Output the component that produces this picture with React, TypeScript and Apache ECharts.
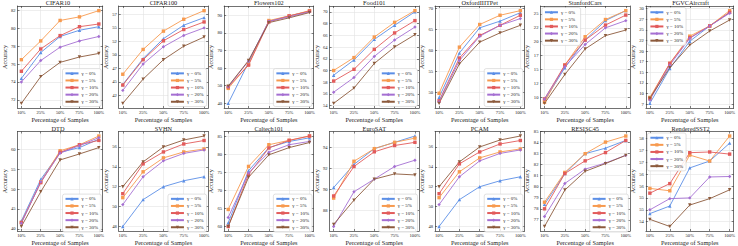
import React, { useEffect, useRef } from 'react';
import * as echarts from 'echarts';

const categories = ['10%', '25%', '50%', '75%', '100%'];
const gammaLabels = ['γ = 0%', 'γ = 5%', 'γ = 10%', 'γ = 20%', 'γ = 30%'];

// rows: γ = 0%, 5%, 10%, 20%, 30%
const cifar10 = [
  [74.4, 77.3, 79.1, 79.8, 80.2],
  [76.5, 78.6, 80.9, 81.3, 82.0],
  [75.2, 77.7, 79.2, 80.2, 80.5],
  [74.0, 76.4, 77.9, 78.6, 79.1],
  [71.6, 74.6, 76.2, 76.8, 77.2],
];
const cifar10Ticks = [72, 74, 76, 78, 80, 82];

const cifar100 = [
  [44.5, 49.3, 53.0, 55.5, 56.9],
  [46.4, 51.0, 54.4, 56.6, 58.2],
  [44.4, 49.1, 52.6, 54.7, 56.1],
  [43.4, 48.3, 51.5, 53.6, 55.0],
  [41.0, 45.5, 49.1, 51.6, 53.3],
];
const cifar100Ticks = [42.5, 45, 47.5, 50, 52.5, 55, 57.5];

const flowers102 = [
  [40.0, 63.2, 86.6, 89.6, 92.3],
  [48.5, 62.1, 87.0, 89.6, 92.6],
  [49.4, 61.7, 86.2, 89.6, 92.3],
  [49.4, 64.0, 86.6, 89.0, 91.9],
  [49.8, 64.3, 85.8, 88.5, 91.5],
];
const flowers102Ticks = [40, 50, 60, 70, 80, 90];

const food101 = [
  [59.2, 61.8, 65.3, 67.7, 70.0],
  [60.0, 62.2, 65.7, 68.2, 70.2],
  [58.2, 60.2, 63.6, 66.4, 68.5],
  [56.3, 58.8, 62.4, 65.2, 67.4],
  [54.4, 57.0, 61.2, 64.0, 66.1],
];
const food101Ticks = [54, 56, 58, 60, 62, 64, 66, 68, 70];

const oxfordPet = [
  [48.8, 59.4, 65.4, 67.0, 69.0],
  [49.8, 60.8, 66.2, 68.4, 69.5],
  [48.0, 58.2, 63.6, 66.0, 68.4],
  [47.8, 57.6, 63.4, 66.0, 67.6],
  [47.4, 56.8, 62.0, 64.2, 66.0],
];
const oxfordPetTicks = [50, 55, 60, 65, 70];

const stanfordCars = [
  [9.4, 15.3, 20.3, 23.8, 25.6],
  [9.1, 15.8, 20.9, 24.0, 25.6],
  [9.7, 15.8, 20.3, 23.0, 24.8],
  [9.7, 15.5, 19.5, 22.5, 23.8],
  [8.9, 14.1, 18.7, 21.1, 22.1],
];
const stanfordCarsTicks = [10, 12.5, 15, 17.5, 20, 22.5, 25];

const fgvcAircraft = [
  [7.7, 15.9, 22.3, 25.9, 29.1],
  [9.1, 17.1, 23.5, 25.9, 29.5],
  [8.8, 17.1, 23.1, 25.9, 29.1],
  [8.5, 16.7, 23.0, 25.9, 28.9],
  [8.9, 16.1, 21.4, 24.7, 27.3],
];
const fgvcAircraftTicks = [7.5, 10, 12.5, 15, 17.5, 20, 22.5, 25, 27.5, 30];

const dtd = [
  [42.0, 52.4, 59.2, 60.4, 62.5],
  [41.6, 51.8, 59.6, 61.1, 63.3],
  [41.6, 51.6, 59.2, 61.1, 62.2],
  [41.4, 51.8, 59.0, 60.9, 62.9],
  [40.6, 49.3, 57.3, 58.8, 60.4],
];
const dtdTicks = [40, 45, 50, 55, 60];

const svhn = [
  [48.0, 50.7, 52.0, 52.6, 53.0],
  [50.9, 53.5, 54.9, 55.5, 55.8],
  [51.3, 54.3, 55.5, 56.3, 56.65],
  [50.2, 53.0, 54.6, 55.35, 55.7],
  [52.0, 54.5, 56.0, 56.7, 57.1],
];
const svhnTicks = [48, 50, 52, 54, 56];

const caltech101 = [
  [61.0, 75.4, 81.8, 83.5, 84.5],
  [64.7, 76.6, 82.6, 83.8, 85.0],
  [60.0, 74.4, 81.7, 83.8, 85.0],
  [62.5, 74.8, 80.5, 82.6, 83.5],
  [60.0, 73.6, 79.8, 81.8, 83.2],
];
const caltech101Ticks = [60, 65, 70, 75, 80, 85];

const euroSAT = [
  [90.2, 92.4, 93.9, 94.5, 95.1],
  [89.2, 92.7, 93.9, 94.5, 94.9],
  [89.4, 92.2, 93.6, 94.2, 94.5],
  [86.5, 89.8, 91.0, 92.2, 92.8],
  [86.7, 89.0, 91.0, 91.5, 91.4],
];
const euroSATTicks = [88, 90, 92, 94];

const pcam = [
  [48.0, 50.7, 52.0, 52.6, 53.0],
  [50.9, 53.5, 54.9, 55.5, 55.8],
  [51.3, 54.3, 55.5, 56.3, 56.65],
  [50.2, 53.0, 54.6, 55.35, 55.7],
  [52.0, 54.5, 56.0, 56.7, 57.1],
];
const pcamTicks = [48, 50, 52, 54, 56];

const resisc45 = [
  [78.4, 81.2, 83.0, 83.5, 84.2],
  [78.6, 81.3, 83.0, 84.05, 84.6],
  [78.0, 81.2, 82.35, 83.1, 84.2],
  [77.3, 80.3, 81.6, 82.15, 82.85],
  [76.4, 79.7, 81.4, 82.1, 82.85],
];
const resisc45Ticks = [77, 78, 79, 80, 81, 82, 83, 84, 85];

const renderedSST2 = [
  [54.84, 55.16, 56.76, 57.05, 57.8],
  [55.9, 55.8, 57.3, 57.05, 58.1],
  [55.7, 56.1, 57.4, 57.43, 57.34],
  [55.0, 55.47, 55.5, 56.38, 56.4],
  [54.6, 54.3, 55.2, 55.47, 55.84],
];
const renderedSST2Ticks = [54.5, 55, 55.5, 56, 56.5, 57, 57.5, 58];

const panels = [
  { title: 'CIFAR10', data: cifar10, ticks: cifar10Ticks, legend: 'br' },
  { title: 'CIFAR100', data: cifar100, ticks: cifar100Ticks, legend: 'br' },
  { title: 'Flowers102', data: flowers102, ticks: flowers102Ticks, legend: 'br' },
  { title: 'Food101', data: food101, ticks: food101Ticks, legend: 'br' },
  { title: 'OxfordIIITPet', data: oxfordPet, ticks: oxfordPetTicks, legend: 'br' },
  { title: 'StanfordCars', data: stanfordCars, ticks: stanfordCarsTicks, legend: 'tl' },
  { title: 'FGVCAircraft', data: fgvcAircraft, ticks: fgvcAircraftTicks, legend: 'tl' },
  { title: 'DTD', data: dtd, ticks: dtdTicks, legend: 'br' },
  { title: 'SVHN', data: svhn, ticks: svhnTicks, legend: 'br' },
  { title: 'Caltech101', data: caltech101, ticks: caltech101Ticks, legend: 'br' },
  { title: 'EuroSAT', data: euroSAT, ticks: euroSATTicks, legend: 'br' },
  { title: 'PCAM', data: pcam, ticks: pcamTicks, legend: 'br' },
  { title: 'RESISC45', data: resisc45, ticks: resisc45Ticks, legend: 'br' },
  { title: 'RenderedSST2', data: renderedSST2, ticks: renderedSST2Ticks, legend: 'tl' },
];

const colors = ['#5b8ee6', '#f79a4f', '#e25b5b', '#a56fd2', '#8c5a3c'];
const symbols = ['triangle', 'rect', 'rect', 'diamond', 'path://M0,0L10,0L5,9Z'];

const W = 738;
const H = 246;
const FONT = 'Liberation Serif';
const COLW = 105.43;
const PL = 13.3;
const PW = 89.4;
const PH = 102;
const ROWTOP = [6, 131.5];

function buildOption() {
  const grid: any[] = [];
  const xAxis: any[] = [];
  const yAxis: any[] = [];
  const series: any[] = [];
  const title: any[] = [];
  const legend: any[] = [];
  const frame = { show: true, onZero: false, lineStyle: { color: '#333', width: 0.7 } };

  panels.forEach((p, i) => {
    const r = Math.floor(i / 7);
    const c = i % 7;
    const left = PL + c * COLW;
    const top = ROWTOP[r];
    grid.push({ left, top, width: PW, height: PH, containLabel: false });
    const all = p.data.flat();
    const lo = Math.min(...all);
    const hi = Math.max(...all);
    const pad = (hi - lo) * 0.05;
    const gx = 2 * i;
    xAxis.push({
      type: 'value', gridIndex: i, position: 'bottom', min: -0.2, max: 4.2,
      name: 'Percentage of Samples', nameLocation: 'middle', nameGap: 8,
      nameTextStyle: { fontFamily: FONT, fontSize: 6.3, color: '#222' },
      axisLine: frame,
      axisTick: { show: true, inside: true, length: 2, customValues: [0, 1, 2, 3, 4], lineStyle: { color: '#333', width: 0.6 } },
      axisLabel: { show: true, customValues: [0, 1, 2, 3, 4], formatter: (v: number) => categories[Math.round(v)] ?? '', fontFamily: FONT, fontSize: 4.6, color: '#222', margin: 2 },
      splitLine: { show: true, lineStyle: { color: '#e3e3e3', width: 0.6 } },
    });
    xAxis.push({
      type: 'value', gridIndex: i, position: 'top', min: -0.2, max: 4.2,
      axisLine: frame,
      axisTick: { show: true, inside: true, length: 2, customValues: [0, 1, 2, 3, 4], lineStyle: { color: '#333', width: 0.6 } },
      axisLabel: { show: false }, splitLine: { show: false },
    });
    yAxis.push({
      type: 'value', gridIndex: i, position: 'left', min: lo - pad, max: hi + pad,
      name: 'Accuracy', nameLocation: 'middle', nameGap: 7, nameRotate: 90,
      nameTextStyle: { fontFamily: FONT, fontSize: 6.3, color: '#222' },
      axisLine: frame,
      axisTick: { show: true, inside: true, length: 2, customValues: p.ticks, lineStyle: { color: '#333', width: 0.6 } },
      axisLabel: { show: true, customValues: p.ticks, formatter: (v: number) => String(Math.trunc(v + 1e-9)), fontFamily: FONT, fontSize: 4.6, color: '#222', margin: 2 },
      splitLine: { show: true, lineStyle: { color: '#e3e3e3', width: 0.6 } },
    });
    yAxis.push({
      type: 'value', gridIndex: i, position: 'right', min: lo - pad, max: hi + pad,
      axisLine: frame,
      axisTick: { show: true, inside: true, length: 2, customValues: p.ticks, lineStyle: { color: '#333', width: 0.6 } },
      axisLabel: { show: false }, splitLine: { show: false },
    });
    title.push({
      text: p.title, left: left + PW / 2, top: top - 6.5, textAlign: 'center',
      padding: 0,
      textStyle: { fontFamily: FONT, fontSize: 6.3, fontWeight: 'normal', color: '#222' },
    });
    const lg: any = {
      orient: 'vertical', data: gammaLabels, itemWidth: 13, itemHeight: 4, itemGap: 1.6,
      padding: [2, 3, 2, 2], backgroundColor: 'rgba(255,255,255,0.85)', borderColor: '#cccccc',
      borderWidth: 0.6, borderRadius: 2, selectedMode: false,
      textStyle: { fontFamily: FONT, fontSize: 5, color: '#222', lineHeight: 5.5, padding: [0, 0, 0, -2] },
    };
    if (p.legend === 'br') {
      lg.right = W - (left + PW) + 1.5;
      lg.bottom = H - (top + PH) + 1.5;
    } else {
      lg.left = left + 1.5;
      lg.top = top + 1.5;
    }
    legend.push(lg);
    p.data.forEach((vals, k) => {
      series.push({
        type: 'line', name: gammaLabels[k], xAxisIndex: gx, yAxisIndex: gx,
        data: vals.map((v, j) => [j, v]),
        symbol: symbols[k], symbolSize: 3.4, color: colors[k],
        lineStyle: { width: 0.9, color: colors[k] }, itemStyle: { color: colors[k] },
      });
    });
  });

  return { animation: false, backgroundColor: '#fff', grid, xAxis, yAxis, series, title, legend };
}

export default function App() {
  const ref = useRef<HTMLDivElement>(null);
  useEffect(() => {
    document.body.style.margin = '0';
    if (!ref.current) return;
    const chart = echarts.init(ref.current, undefined, { renderer: 'svg' });
    chart.setOption(buildOption() as any);
    return () => chart.dispose();
  }, []);
  return <div ref={ref} style={{ width: W, height: H }} />;
}
